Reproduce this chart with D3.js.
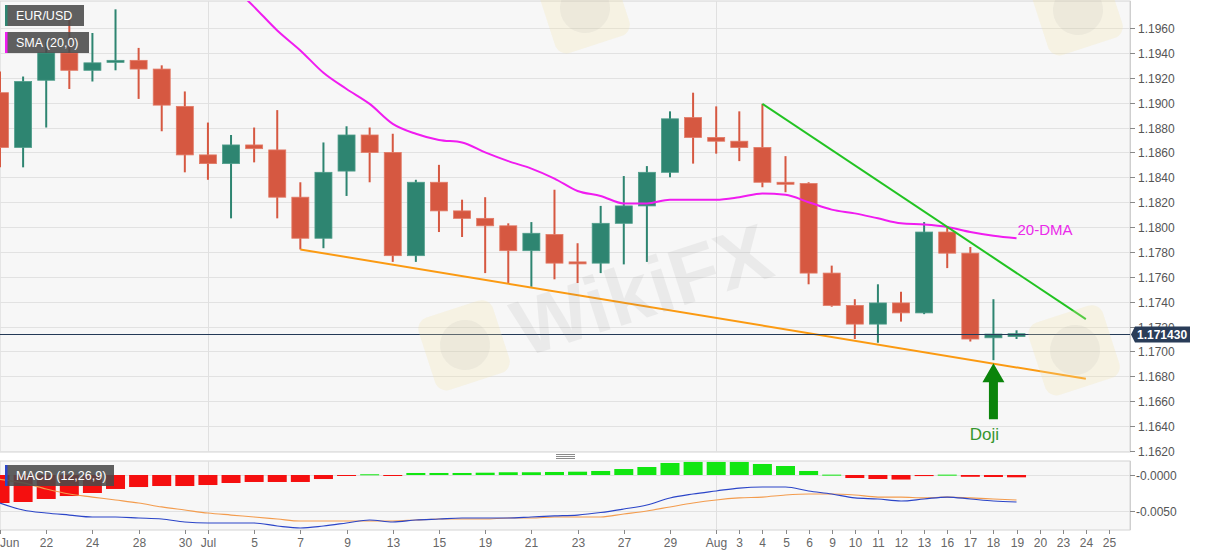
<!DOCTYPE html>
<html>
<head>
<meta charset="utf-8">
<script src="https://cdn.jsdelivr.net/npm/d3@7"></script>
<style>
  body { margin: 0; background: #fff; }
  svg { font-family: "Liberation Sans", Arial, sans-serif; }
</style>
</head>
<body>
<svg id="chart" width="1207" height="555"></svg>
<script>
// trading days shown on the axis (last four are empty space on the right)
const dates = [
  "2021-06-18","2021-06-21","2021-06-22","2021-06-23","2021-06-24","2021-06-25","2021-06-28","2021-06-29","2021-06-30",
  "2021-07-01","2021-07-02","2021-07-05","2021-07-06","2021-07-07","2021-07-08","2021-07-09","2021-07-12","2021-07-13",
  "2021-07-14","2021-07-15","2021-07-16","2021-07-19","2021-07-20","2021-07-21","2021-07-22","2021-07-23","2021-07-26",
  "2021-07-27","2021-07-28","2021-07-29","2021-07-30","2021-08-02","2021-08-03","2021-08-04","2021-08-05","2021-08-06",
  "2021-08-09","2021-08-10","2021-08-11","2021-08-12","2021-08-13","2021-08-16","2021-08-17","2021-08-18","2021-08-19",
  "2021-08-20","2021-08-23","2021-08-24","2021-08-25"
];

// daily OHLC, EUR/USD
const open  = [1.1908,1.1864,1.1918,1.1940,1.1926,1.1933,1.1934,1.1927,1.1897,1.1858,1.1851,1.1866,1.1862,1.1824,1.1791,
               1.1845,1.1874,1.1860,1.1777,1.1836,1.1813,1.1807,1.1801,1.1781,1.1794,1.1772,1.1771,1.1803,1.1817,1.1844,
               1.1888,1.1872,1.1869,1.1864,1.1836,1.1835,1.1763,1.1737,1.1722,1.1739,1.1731,1.1796,1.1779,1.1711,1.1712];
const high  = [1.1925,1.1921,1.1950,1.1970,1.1956,1.1975,1.1944,1.1930,1.1909,1.1884,1.1874,1.1880,1.1894,1.1836,1.1868,
               1.1881,1.1880,1.1875,1.1838,1.1850,1.1822,1.1824,1.1803,1.1804,1.1830,1.1787,1.1817,1.1841,1.1849,1.1893,
               1.1908,1.1897,1.1893,1.1899,1.1857,1.1836,1.1769,1.1742,1.1754,1.1748,1.1804,1.1800,1.1784,1.1742,1.1717];
const low   = [1.1848,1.1848,1.1880,1.1911,1.1917,1.1926,1.1903,1.1877,1.1844,1.1838,1.1807,1.1852,1.1807,1.1782,1.1783,
               1.1825,1.1836,1.1772,1.1772,1.1796,1.1792,1.1763,1.1755,1.1752,1.1758,1.1755,1.1763,1.1770,1.1772,1.1840,
               1.1851,1.1859,1.1853,1.1832,1.1828,1.1754,1.1736,1.1710,1.1707,1.1724,1.1730,1.1767,1.1708,1.1693,1.1710];
const close = [1.1864,1.1917,1.1940,1.1926,1.1932,1.1934,1.1927,1.1898,1.1858,1.1851,1.1866,1.1863,1.1824,1.1791,1.1844,
               1.1874,1.1860,1.1777,1.1836,1.1813,1.1807,1.1801,1.1781,1.1795,1.1771,1.1771,1.1803,1.1817,1.1844,1.1887,
               1.1872,1.1869,1.1864,1.1836,1.1835,1.1763,1.1737,1.1722,1.1739,1.1731,1.1796,1.1779,1.1710,1.1714,1.17143];

// 20-day SMA (values before Jul 2 are above the visible range)
const sma20 = [null,null,null,null,null,null,null,null,null,null,
               1.1995,1.1977,1.1958,1.1942,1.1924,1.1911,1.1899,1.1883,1.1875,1.1870,1.1868,1.1860,1.1853,1.1847,1.1839,
               1.1829,1.1825,1.1819,1.1819,1.1822,1.1822,1.1822,1.1824,1.1827,1.1826,1.1820,1.1814,1.1811,1.1807,1.1803,
               1.1802,1.1800,1.1796,1.1793,1.1791];

// MACD (12,26,9)
const macdLine   = [-0.00389,-0.00486,-0.00528,-0.00556,-0.00583,-0.00583,-0.00597,-0.00611,-0.00653,-0.00667,-0.00667,
                    -0.00667,-0.00708,-0.00736,-0.00708,-0.00667,-0.00625,-0.00653,-0.00625,-0.00611,-0.00597,-0.00597,
                    -0.00597,-0.00583,-0.00569,-0.00556,-0.00521,-0.00472,-0.00417,-0.00319,-0.00264,-0.00222,-0.00181,
                    -0.00167,-0.00167,-0.00222,-0.00264,-0.00319,-0.00333,-0.00361,-0.00333,-0.00306,-0.00333,-0.00361,-0.00375];
const signalLine = [-0.00060,-0.00110,-0.00194,-0.00264,-0.00306,-0.00347,-0.00389,-0.00444,-0.00486,-0.00528,-0.00556,
                    -0.00583,-0.00611,-0.00639,-0.00639,-0.00639,-0.00639,-0.00639,-0.00625,-0.00611,-0.00611,-0.00611,
                    -0.00597,-0.00597,-0.00583,-0.00583,-0.00583,-0.00542,-0.00500,-0.00444,-0.00389,-0.00347,-0.00319,
                    -0.00306,-0.00278,-0.00264,-0.00264,-0.00278,-0.00306,-0.00306,-0.00319,-0.00306,-0.00319,-0.00333,-0.00347];
const histogram  = [-0.00389,-0.00375,-0.00333,-0.00292,-0.00250,-0.00194,-0.00167,-0.00153,-0.00153,-0.00139,-0.00111,
                    -0.00097,-0.00097,-0.00097,-0.00056,-0.00010,0.00010,-0.00010,0.00028,0.00028,0.00028,0.00032,
                    0.00038,0.00038,0.00042,0.00046,0.00056,0.00083,0.00111,0.00167,0.00181,0.00181,0.00181,
                    0.00153,0.00125,0.00056,0.00005,-0.00042,-0.00056,-0.00063,-0.00015,0.00005,-0.00025,-0.00028,-0.00032];

// x axis labels
const tickDates = ["2021-06-18","2021-06-22","2021-06-24","2021-06-28","2021-06-30","2021-07-01","2021-07-05","2021-07-07",
                   "2021-07-09","2021-07-13","2021-07-15","2021-07-19","2021-07-21","2021-07-23","2021-07-27","2021-07-29",
                   "2021-08-02","2021-08-03","2021-08-04","2021-08-05","2021-08-06","2021-08-09","2021-08-10","2021-08-11",
                   "2021-08-12","2021-08-13","2021-08-16","2021-08-17","2021-08-18","2021-08-19","2021-08-20","2021-08-23",
                   "2021-08-24","2021-08-25"];
const tickText  = ["Jun","22","24","28","30","Jul","5","7","9","13","15","19","21","23","27","29",
                   "Aug","3","4","5","6","9","10","11","12","13","16","17","18","19","20","23","24","25"];
const monthStarts = ["2021-07-01","2021-08-02"];

const priceTicks = d3.range(1.1620, 1.19601, 0.002);
const macdTicks = [0, -0.005];

// trend lines
const resistance = [["2021-08-04", 1.1899], ["2021-08-24", 1.1726]];
const support    = [["2021-07-07", 1.1782], ["2021-08-24", 1.1678]];
const lastPrice = 1.17143;
const dojiDate = "2021-08-18";

// ---- layout
const W = 1207, H = 555;
const plotRight = 1130;
const main = { top: 1, bottom: 452 };
const sub  = { top: 461, bottom: 530 };

const svg = d3.select("#chart");

const x = d3.scaleBand().domain(dates).range([-11.55, 1120.5]).padding(0);
const xc = d => x(d) + x.bandwidth() / 2;
const y = d3.scaleLinear().domain([1.1620, 1.1960]).range([451, 28]);
const ym = d3.scaleLinear().domain([-0.005, 0]).range([511, 475]);

const upCol = "#2e8571", downCol = "#d65841";

// panel backgrounds
svg.append("rect").attr("x", 0).attr("y", main.top).attr("width", plotRight).attr("height", main.bottom - main.top)
  .attr("fill", "#f7f7f7").attr("stroke", "#d4d4d4");
svg.append("rect").attr("x", 0).attr("y", sub.top).attr("width", plotRight).attr("height", sub.bottom - sub.top)
  .attr("fill", "#f7f7f7").attr("stroke", "#d4d4d4");

const defs = svg.append("defs");
defs.append("clipPath").attr("id", "clipMain").append("rect")
  .attr("x", 0).attr("y", main.top).attr("width", plotRight).attr("height", main.bottom - main.top);
defs.append("clipPath").attr("id", "clipSub").append("rect")
  .attr("x", 0).attr("y", sub.top).attr("width", plotRight).attr("height", sub.bottom - sub.top);

// grid
const gMain = svg.append("g").attr("clip-path", "url(#clipMain)");
const gSub = svg.append("g").attr("clip-path", "url(#clipSub)");

gMain.selectAll(".hgrid").data(priceTicks).enter().append("line")
  .attr("x1", 0).attr("x2", plotRight).attr("y1", d => Math.round(y(d)) + 0.5).attr("y2", d => Math.round(y(d)) + 0.5)
  .attr("stroke", "#e2e2e2");
gSub.selectAll(".hgrid").data(macdTicks).enter().append("line")
  .attr("x1", 0).attr("x2", plotRight).attr("y1", d => Math.round(ym(d)) + 0.5).attr("y2", d => Math.round(ym(d)) + 0.5)
  .attr("stroke", "#e2e2e2");
[gMain, gSub].forEach(g => {
  g.selectAll(".vgrid").data(monthStarts).enter().append("line")
    .attr("x1", d => Math.round(xc(d)) + 0.5).attr("x2", d => Math.round(xc(d)) + 0.5)
    .attr("y1", 0).attr("y2", H).attr("stroke", "#e0e0e0");
});

// faint watermarks
function watermark(cx, cy, withText) {
  const g = svg.append("g").attr("transform", `translate(${cx},${cy}) rotate(-18)`).attr("pointer-events", "none");
  g.append("rect").attr("x", -40).attr("y", -38).attr("width", 78).attr("height", 76).attr("rx", 12)
    .attr("fill", "#f4e4a8").attr("opacity", 0.25);
  g.append("circle").attr("r", 25).attr("fill", "#9a9a9a").attr("opacity", 0.1);
  if (withText) {
    g.append("text").attr("x", 52).attr("y", 30).attr("font-size", 80).attr("font-weight", "bold")
      .attr("fill", "#888").attr("opacity", 0.11).text("WikiFX");
  }
}
watermark(465, 345, true);
watermark(1075, 350, false);
watermark(585, 8, false);
watermark(1078, 10, false);

// candles
const candles = open.map((o, i) => ({ date: dates[i], o, h: high[i], l: low[i], c: close[i] }));
const bodyW = 17;
const cg = gMain.append("g");
cg.selectAll(".wick").data(candles).enter().append("line")
  .attr("x1", d => xc(d.date)).attr("x2", d => xc(d.date))
  .attr("y1", d => y(d.h)).attr("y2", d => y(d.l))
  .attr("stroke", d => d.c >= d.o ? upCol : downCol).attr("stroke-width", 2);
cg.selectAll(".body").data(candles).enter().append("rect")
  .attr("x", d => xc(d.date) - bodyW / 2)
  .attr("y", d => y(Math.max(d.o, d.c)))
  .attr("width", bodyW)
  .attr("height", d => Math.max(2, Math.abs(y(d.o) - y(d.c))))
  .attr("fill", d => d.c >= d.o ? upCol : downCol)
  .attr("stroke", d => d.c >= d.o ? "#4f9d8a" : "#e27a66").attr("stroke-width", 0.8);

// SMA 20
const smaPts = sma20.map((v, i) => ({ date: dates[i], v })).filter(d => d.v !== null);
gMain.append("path").datum(smaPts)
  .attr("d", d3.line().x(d => xc(d.date)).y(d => y(d.v)).curve(d3.curveMonotoneX))
  .attr("fill", "none").attr("stroke", "#f01cf0").attr("stroke-width", 2);

// trend lines
const tl = d3.line().x(d => xc(d[0])).y(d => y(d[1]));
gMain.append("path").datum(resistance).attr("d", tl).attr("stroke", "#22c322").attr("stroke-width", 2).attr("fill", "none");
gMain.append("path").datum(support).attr("d", tl).attr("stroke", "#fb9a12").attr("stroke-width", 2).attr("fill", "none");

// last price line
gMain.append("line").attr("x1", 0).attr("x2", plotRight)
  .attr("y1", Math.round(y(lastPrice)) + 0.5).attr("y2", Math.round(y(lastPrice)) + 0.5)
  .attr("stroke", "#243a57").attr("stroke-width", 1);

// 20-DMA label
const lastSma = smaPts[smaPts.length - 1];
svg.append("text").attr("x", xc(lastSma.date) + 1).attr("y", y(lastSma.v) - 3)
  .attr("font-size", 15).attr("fill", "#ea2aea").text("20-DMA");

// doji arrow
const ax = xc(dojiDate);
const tipY = y(low[dates.indexOf(dojiDate)]) + 3;
const tailY = tipY + 56;
svg.append("path")
  .attr("d", `M${ax},${tipY} L${ax + 11},${tipY + 19} L${ax + 4.5},${tipY + 19} L${ax + 4.5},${tailY} L${ax - 4.5},${tailY} L${ax - 4.5},${tipY + 19} L${ax - 11},${tipY + 19} Z`)
  .attr("fill", "#0b840b");
svg.append("text").attr("x", ax - 9).attr("y", tailY + 21).attr("text-anchor", "middle")
  .attr("font-size", 17).attr("fill", "#35962f").text("Doji");

// MACD histogram
const hg = gSub.append("g");
hg.selectAll("rect").data(histogram.map((v, i) => ({ date: dates[i], v }))).enter().append("rect")
  .attr("x", d => xc(d.date) - bodyW / 2 - 1)
  .attr("width", bodyW + 2)
  .attr("y", d => d.v >= 0 ? ym(d.v) : ym(0))
  .attr("height", d => Math.max(1, Math.abs(ym(d.v) - ym(0))))
  .attr("fill", d => d.v >= 0 ? "#11e611" : "#f50f0f");

const ml = d3.line().x((d, i) => xc(dates[i])).y(d => ym(d)).curve(d3.curveMonotoneX);
gSub.append("path").datum(signalLine).attr("d", ml).attr("fill", "none").attr("stroke", "#f39c4e").attr("stroke-width", 1.2);
gSub.append("path").datum(macdLine).attr("d", ml).attr("fill", "none").attr("stroke", "#2b45c8").attr("stroke-width", 1.2);

// right axes
const axisCol = "#555";
svg.append("line").attr("x1", plotRight + 0.5).attr("x2", plotRight + 0.5).attr("y1", main.top).attr("y2", main.bottom).attr("stroke", "#cfcfcf");
svg.append("line").attr("x1", plotRight + 0.5).attr("x2", plotRight + 0.5).attr("y1", sub.top).attr("y2", sub.bottom).attr("stroke", "#cfcfcf");

const ya = svg.append("g");
priceTicks.forEach(t => {
  const yy = Math.round(y(t)) + 0.5;
  ya.append("line").attr("x1", plotRight).attr("x2", plotRight + 5).attr("y1", yy).attr("y2", yy).attr("stroke", "#888");
  ya.append("text").attr("x", plotRight + 8).attr("y", yy + 4).attr("font-size", 12).attr("fill", axisCol).text(t.toFixed(4));
});
macdTicks.forEach(t => {
  const yy = Math.round(ym(t)) + 0.5;
  ya.append("line").attr("x1", plotRight).attr("x2", plotRight + 5).attr("y1", yy).attr("y2", yy).attr("stroke", "#888");
  ya.append("text").attr("x", plotRight + 6).attr("y", yy + 4).attr("font-size", 12).attr("fill", axisCol).text("-" + Math.abs(t).toFixed(4));
});

// last price tag
const py = Math.round(y(lastPrice)) + 0.5;
svg.append("path")
  .attr("d", `M${plotRight + 1},${py} L${plotRight + 5},${py - 8} L${plotRight + 60},${py - 8} L${plotRight + 60},${py + 8} L${plotRight + 5},${py + 8} Z`)
  .attr("fill", "#293c58");
svg.append("text").attr("x", plotRight + 7).attr("y", py + 4.5).attr("font-size", 12).attr("font-weight", "bold")
  .attr("fill", "#fff").text(lastPrice.toFixed(6));

// x axis
const xa = svg.append("g");
tickDates.forEach((d, i) => {
  const xx = Math.round(xc(d)) + 0.5;
  xa.append("line").attr("x1", xx).attr("x2", xx).attr("y1", sub.bottom).attr("y2", sub.bottom + 4).attr("stroke", "#888");
  xa.append("text").attr("x", i === 0 ? 0 : xx).attr("y", 547)
    .attr("text-anchor", i === 0 ? "start" : "middle")
    .attr("font-size", 12).attr("fill", "#666").text(tickText[i]);
});

// panel resize handle
[0, 2, 4].forEach(o => {
  svg.append("line").attr("x1", 556).attr("x2", 575).attr("y1", 454.5 + o).attr("y2", 454.5 + o).attr("stroke", "#8a8a8a");
});

// legend boxes
function legend(x0, y0, w, col, label) {
  svg.append("rect").attr("x", x0).attr("y", y0).attr("width", w).attr("height", 21).attr("fill", "#4a4a4a").attr("opacity", 0.88);
  svg.append("rect").attr("x", x0).attr("y", y0).attr("width", 2.5).attr("height", 21).attr("fill", col);
  svg.append("text").attr("x", x0 + 11).attr("y", y0 + 15).attr("font-size", 12.5).attr("fill", "#fff").text(label);
}
legend(5, 5, 79, upCol, "EUR/USD");
legend(5, 32, 84, "#f01cf0", "SMA (20,0)");
legend(5, 465, 109, "#2b45c8", "MACD (12,26,9)");
</script>
</body>
</html>
